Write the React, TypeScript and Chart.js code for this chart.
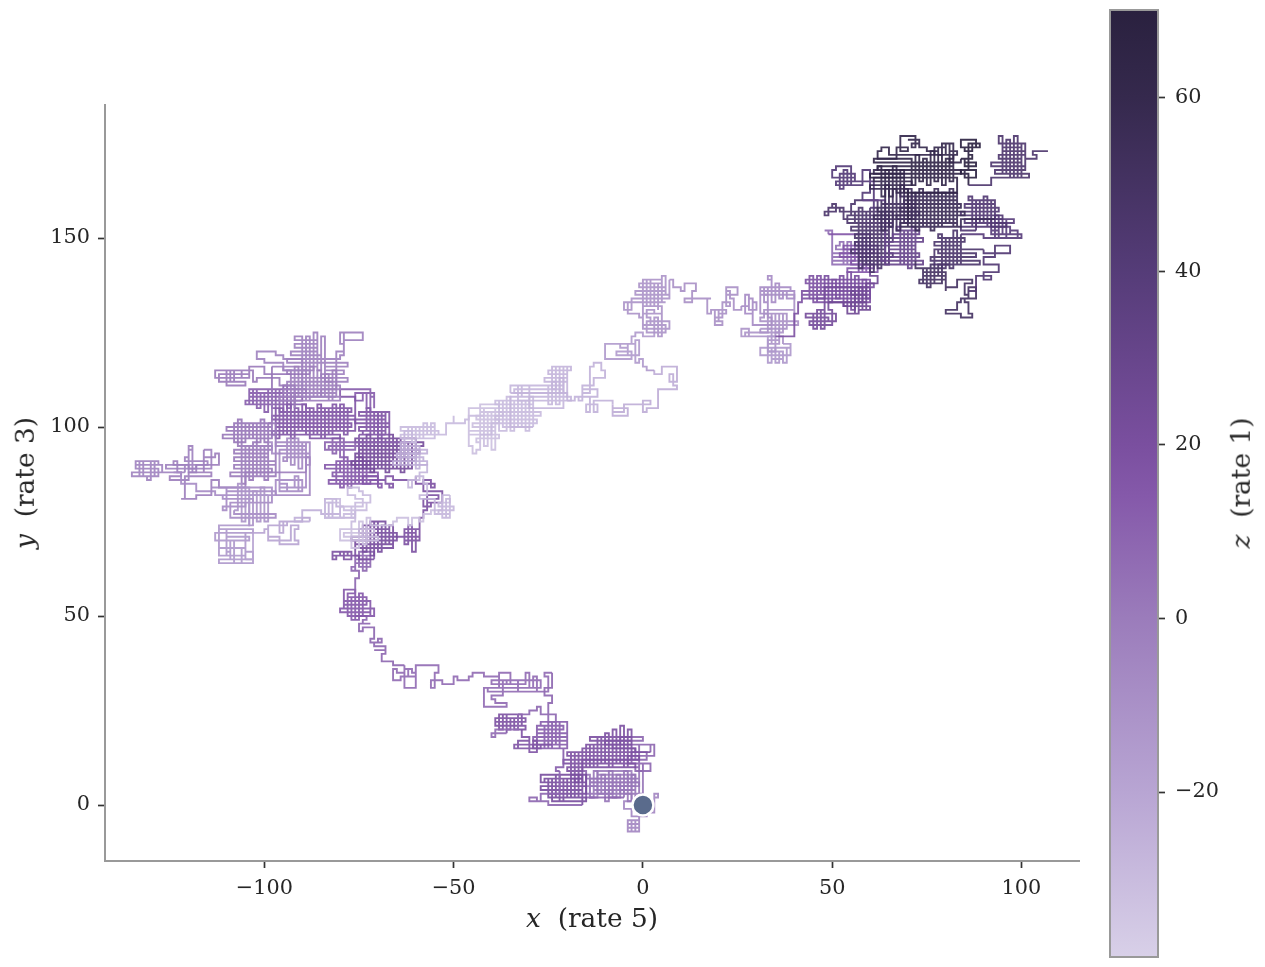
import { useEffect, useRef } from 'react'
import { Chart, registerables } from 'chart.js'

Chart.register(...registerables)

const SERIF = "'DejaVu Serif', serif"

const xTicks = [-100, -50, 0, 50, 100]
const yTicks = [0, 50, 100, 150]
const zTicks = [-20, 0, 20, 40, 60]

// walk, one row per stretch of the path
const legX: number[][] = [
  [0,3,4,3,1,-1,-4,-1,-4,-1,-4,-3,-2,-1,-3,-5,-3,-5,-4],
  [-4,-2,-6,-3,-12,-2,-14,-1,-9,-6,-10,-8,-12,-10,-14,-12,-15],
  [0,-1,-2,-3,-4,-5,-6,-7,-8,-9,-10,-11,-12,-13,-14,-15,-1,-14,-2,-13,-5],
  [-15,-16,-1,2,-3,1,-2,-8,-6,0,-10,3,-4,0,-2,-1,2],
  [-17,-2,-17,-1,-16,-2,-15,-3,-14,-3,-12,-4,-16,-15,-14,-13,-12,-11,-10,-9,-8,-7,-6,-5,-4,-3],
  [-16,-20,-16,-21,-16,-20,-16,-19,-18,-17,-16,-19,-18,-17,-16],
  [-27,-16,-26,-15,-27,-16,-25,-15,-24,-17,-22,-15,-25,-24,-23,-22,-21,-20,-19,-18,-17,-16],
  [-25,-30,-28,-27,-25,-22],
  [-23,-21,-29,-20,-29,-20,-28,-21,-27,-20,-28,-26,-25,-24,-23,-22,-24],
  [-28,-34,-27,-33,-30,-29,-28,-30,-32],
  [-33,-31,-39,-31,-39,-32,-38,-37,-36,-35,-34,-33,-36,-36],
  [-37,-40,-39,-36,-33],
  [-30,-28,-27,-24,-23,-25,-24,-26,-24,-24],
  [-26,-25,-41,-27,-40,-31,-30,-29,-28,-33,-36,-35,-38,-37,-40,-39,-36,-42,-38],
  [-42,-45,-46,-49,-50,-53,-56,-55,-54,-56,-60,-62,-61,-60,-63,-62,-64,-66,-65,-63],
  [-66,-66,-68,-69,-68,-71,-68,-71,-69,-70,-72,-71,-74,-75,-72,-74,-73,-76],
  [-72,-78,-71,-80,-72,-79,-73,-77,-76,-75,-74,-78,-77,-76,-79,-78,-76],
  [-76,-76,-75,-76,-77,-76,-72,-76,-72,-75,-74,-73,-75,-71],
  [-75,-81,-82,-78,-80,-79,-77,-82,-76],
  [-76,-66,-77,-65,-75,-67,-76,-66,-74,-70,-72,-68,-74,-73,-72,-71,-70,-69,-68,-67,-66],
  [-65,-60,-63,-59,-62,-61,-60,-63,-62,-61,-59],
  [-58,-57,-56,-58,-54,-57,-53,-58,-55,-56,-58,-60,-60],
  [-62,-66,-68,-67,-66,-68,-72,-74,-70],
  [-69,-83,-70,-82,-71,-84,-72,-81,-70,-80,-73,-80,-79,-78,-77,-76,-75,-74,-73],
  [-61,-77,-60,-76,-59,-75,-58,-76,-60,-74,-62,-76,-75,-74,-73,-72,-71,-70,-69,-68,-67,-66,-65,-64,-63,-62,-61],
  [-76,-83,-76,-84,-80,-82,-81,-80,-79,-82,-75],
  [-68,-75,-67,-76,-68,-75,-67,-74,-73,-72,-71,-70,-69,-68],
  [-70,-72,-71,-71,-76,-74,-73,-72,-74,-80],
  [-76,-88,-77,-89,-76,-88,-77,-86,-80,-88,-87,-86,-85,-84,-83,-82,-81,-80,-79,-78],
  [-85,-98,-86,-97,-85,-98,-87,-96,-97,-96,-95,-94,-93,-92,-91,-90,-89,-88],
  [-89,-105,-90,-104,-89,-103,-104,-102,-101,-100,-99,-98,-97,-96,-95,-94,-93,-92],
  [-92,-96,-102,-103,-113,-104,-112,-105,-110,-109,-108,-106,-104,-100,-98],
  [-87,-95,-86,-94,-85,-93,-86,-92,-86,-92,-90,-89,-88,-87,-86,-85,-84],
  [-84,-78,-85,-79,-84,-78,-86,-80,-79,-74,-79,-80,-79,-81,-85],
  [-80,-96,-81,-95,-80,-94,-82,-93,-94,-93,-92,-91,-90,-89,-88,-87,-86,-85,-84,-83,-82,-81],
  [-90,-95,-97,-102,-100,-96,-95,-88],
  [-98,-111,-97,-110,-98,-108,-107,-106,-105,-104,-103,-102,-101,-100,-99],
  [-97,-109,-98,-108,-97,-108,-99,-108,-98,-107,-106,-105,-104,-103,-102,-101,-100,-99],
  [-98,-96,-89,-88,-89,-93,-92,-91,-96,-94,-90,-97],
  [-88,-97,-89,-96,-88,-95,-94,-93,-92,-91,-90,-89],
  [-105,-112,-114,-118,-122,-121,-114,-116,-113,-112,-118,-120,-124,-123,-122,-125,-120,-116],
  [-114,-126,-115,-121,-120,-119,-120,-119,-118,-121],
  [-127,-134,-128,-134,-128,-135,-131,-130,-129,-132,-133,-128,-124],
  [-122,-118,-113,-110,-114,-110,-111,-105,-103,-111,-97,-110,-98,-109,-97,-108],
  [-107,-106,-105,-104,-103,-102,-101,-100,-99],
  [-104,-112,-103,-110,-104,-113,-105,-112,-110,-109,-108,-105,-110,-109,-105,-103,-108,-112,-106,-112,-103,-105],
  [-103,-100,-99,-93,-91,-92,-91,-96,-99,-94,-95,-96,-90,-88],
  [-92,-90,-85,-84,-82,-83,-80,-84,-81,-79,-80,-76],
  [-76,-72,-74,-75,-78,-76,-74,-79,-73,-76,-77,-80,-82,-80,-84,-84,-79,-76,-77],
  [-80,-70,-79,-71,-77,-75,-74,-73,-72,-66,-65,-62,-61,-59,-58,-56,-55,-53,-52,-51],
  [-53,-51,-54,-50,-54,-53,-52,-51,-55,-59,-57,-58,-60,-62,-61,-59,-57,-60,-62,-60],
  [-57,-66,-58,-65,-57,-64,-60,-59,-62,-64,-60,-63,-61],
  [-64,-54,-64,-55,-63,-62,-61,-60,-59,-58,-57,-56,-55,-52,-50,-50,-47,-46,-42],
  [-42,-38,-43,-37,-44,-38,-45,-39,-46,-38,-44,-43,-42,-41,-40,-39,-46,-45,-44,-43],
  [-40,-28,-39,-27,-38,-29,-39,-30,-36,-38,-37,-36,-35,-34,-33,-32,-31,-30,-29],
  [-35,-20,-34,-21,-33,-19,-32,-25,-24,-23,-22,-21,-30,-35],
  [-20,-26,-20,-25,-19,-24,-23,-22,-21,-20],
  [-18,-16,-12,-17,-16,-14,-13,-11,-10,-13,-16,-14,-15,-12,-13,-8],
  [-8,-4,-8,-5,-4,2,0,1,4,9,8,7,9,5,3],
  [1,0,-1,-2,-6,-4,-7,-3,-10,-2,-1,-4,-3,-2,0,3],
  [0,6,1,7,3,4,5,0,2,1,3,5,2,3],
  [-5,-3,-4,-1,0,4,4],
  [6,-3,7,-2,6,-1,5,0,1,2,3,4,5,6,7],
  [8,10,11,13,14,13,11,15],
  [18,17,18,20,19,21,19,21,20,22,21,23,22],
  [24,25,22,23,24,26],
  [28,27,29,28,30,29,34,33,33,31,31,33],
  [31,39,32,33,34,35,36,37,38,40,34,33,34,32],
  [40,32,33,41,31,32,40,33,34,35,36,37,38,33,31],
  [37,27,28,26,35,36,34,33,35,36,33,36,37],
  [39,31,34,37,33,34,35,36,37,38,39,33,35],
  [40,41,42,44,42,60,44,61,43,60,46,60,47,46,45,44],
  [48,49,50,51,52,53,54,55,56,57,58,59,60],
  [48,43,49,44,50,45,46,47,48,47,51,50,49],
  [55,54,57,60,53,59,55,56,57,58,59,62,60],
  [58,50,57,50,56,51,52,53,54,55,50,48,49],
  [60,52,61,53,62,54,61,55,56,57,58,59,60],
  [66,55,65,54,66,55,65,56,66,56,64,55,66,57,64,58,57,58,59,60,61,62,63,64,65],
  [62,56,55,52,50,51,48,49,53,54,57,56,60],
  [61,56,55,51,50,56,51,55,52,53,54,58,60,58],
  [64,74,63,73,65,72,64,74,66,73,67,68,69,70,71,72],
  [72,79,74,80,73,77,76,75,74,79,81,78,79,80],
  [80,83,87,85,86,88,84,83,81,80,83,84,87,86,85,86],
  [88,90,92,90,94,90,93,97,90],
  [77,89,76,88,78,84,77,85,78,79,80,81,82,83,84],
  [85,90,94,92,97,92,98,93,100,97,99,96,95,94,93,92,88],
  [84,96,85,95,84,94,85,93,86,87,88,89,90,91,92,93],
  [84,68,83,67,85,68,84,69,83,68,69,70,71,72,73,74,75,76,77,78,79,80,81,82,83],
  [72,61,73,62,72,63,63,64,65,66,67,68,69,70,71],
  [70,60,71,61,69,61,62,63,64,65,66,67,68,69],
  [83,60,84,62,82,61,71,72,73,74,75,76,77,78,79,80,81,82],
  [81,66,65,63,62,67,70,68,72,73,71,72,70,73],
  [75,78,77,80,79,82,81,80,78,83,81,84],
  [85,88,85,87,86,89,84,88,85,87,86,85,88,84,86],
  [92,102,93,101,92,100,94,101,95,100,94,95,96,97,98,99,100,101,101,104,103,107],
]
const legY: number[][] = [
  [0,3,2,-2,-3,-4,-5,-6,-7,-4,-7,-4,-7,-3,-1,1,3,5,6],
  [8,6,4,9,8,7,6,5,2,6,3,8,3,7,2,5,3],
  [9,2,8,1,9,3,8,2,9,1,8,3,9,2,8,7,6,5,4,3,2],
  [9,12,9,11,14,12,15,16,18,17,16,13,11,9,10,16,14],
  [10,11,12,13,14,15,16,17,18,16,12,10,15,10,16,10,18,11,19,10,20,11,21,10,20,12],
  [14,13,12,11,10,9,8,13,7,13,7,14,6,12,6],
  [8,7,6,5,4,3,2,1,4,6,8,3,7,2,8,1,7,2,7,2,8,0],
  [1,2,1,3,3,9],
  [10,15,16,17,18,19,20,21,22,15,21,15,22,16,22,15,16],
  [15,16,15,17,15,17,14,18,20],
  [20,21,22,23,21,24,20,24,20,23,20,24,19,19],
  [19,18,20,20,24],
  [25,26,24,24,22,27,29,31,33,35],
  [34,30,31,33,32,35,31,34,30,33,32,35,33,29,28,27,26,31,34],
  [35,34,33,34,32,33,31,35,37,37,34,36,35,31,36,34,33,36,35,37],
  [37,38,38,40,41,41,42,43,44,43,44,47,46,48,48,49,50,50],
  [51,50,52,51,54,53,55,54,49,56,50,55,49,57,52,56,56],
  [58,60,62,63,62,65,64,66,63,67,62,66,67,65],
  [66,65,67,66,67,65,67,66,68],
  [69,70,71,72,73,70,68,71,74,72,75,69,67,74,66,75,67,74,69,74,70],
  [71,72,70,73,71,67,73,69,74,71,76],
  [78,80,79,81,82,80,83,85,84,86,85,87,86],
  [86,87,85,84,85,86,85,87,84],
  [85,86,87,88,89,90,91,85,88,91,86,84,92,84,91,85,92,85,91],
  [90,91,92,93,94,95,96,97,91,93,89,92,97,89,98,88,97,89,97,88,98,89,97,88,96,89,96],
  [94,95,96,94,97,93,96,92,97,95,98],
  [99,100,101,102,103,104,98,99,105,98,104,97,104,98],
  [104,108,105,109,107,109,105,110,110,108],
  [99,100,101,102,103,104,105,98,97,105,98,106,97,105,98,106,99,106,98,105],
  [98,99,100,101,102,103,104,105,97,105,98,106,97,105,99,106,98,105],
  [106,107,108,109,110,106,110,105,109,104,110,105,110,104,111,105,109,105],
  [111,113,112,115,113,114,112,111,115,112,115,113,116,114,116],
  [115,116,117,118,119,120,121,122,123,124,115,124,116,125,115,124,116],
  [112,113,114,115,116,117,118,119,125,123,125,122,120,110,108],
  [107,108,109,110,111,112,113,114,115,107,116,108,115,107,116,108,115,108,114,107,115,108],
  [118,119,120,118,117,117,115,114],
  [97,98,99,100,101,96,102,96,101,97,101,96,102,96,101],
  [87,88,89,90,91,92,93,94,95,96,85,95,86,96,87,95,86,96],
  [93,84,92,90,84,84,87,83,85,83,86,82],
  [96,95,94,93,92,91,97,90,97,89,96,88],
  [84,86,82,81,81,87,88,92,93,90,89,90,91,88,87,86,88,94],
  [89,90,91,92,95,88,94,88,90,88],
  [90,91,90,89,88,87,86,91,87,91,87,88,88],
  [85,83,82,84,84,78,79,80,81,82,83,84,80,76,77,78],
  [85,75,84,74,83,75,84,75,82],
  [74,73,72,71,70,72,68,73,66,70,66,70,67,65,65,64,66,68,64,65,67,65],
  [72,73,70,74,73,70,69,71,74,75,72,75,76,75],
  [76,78,77,76,80,76,77,81,79,79,76,78],
  [80,82,83,84,82,81,79,78,80,76,79,80,81,80,77,76,77,75,73],
  [70,71,72,73,68,75,69,76,74,75,76,74,76,75,77,78,78,80,80,82],
  [76,77,78,79,80,76,81,77,81,82,85,87,86,84,86,88,90,92,93,91],
  [90,91,92,93,94,95,89,95,90,96,92,99,97],
  [98,99,100,97,97,100,96,100,97,101,98,101,98,101,103,101,102,103,103],
  [105,106,104,103,102,101,100,99,98,97,96,105,95,104,94,105,95,93,94,98],
  [101,102,103,104,105,106,107,100,99,107,100,108,99,107,100,107,99,108,100],
  [108,109,110,111,107,108,111,106,112,106,113,105,111,109],
  [112,113,114,115,116,110,116,109,116,107],
  [108,110,108,107,109,116,117,115,113,111,108,104,106,104,107,106],
  [103,105,104,106,106,107,104,105,110,111,114,112,116,114,115],
  [116,118,117,122,121,119,120,118,122,123,119,122,124,125,124,126],
  [127,125,128,126,129,124,130,127,129,131,130,132,133,133],
  [131,133,130,129,132,131,133],
  [133,134,135,136,137,138,139,132,139,132,138,133,140,135,139],
  [137,136,138,138,136,133,134,134],
  [134,130,131,128,129,131,127,128,130,131,133,132,137],
  [137,135,136,134,131,132],
  [135,130,134,131,133,127,129,133,130,131,137,135],
  [136,137,133,137,133,138,134,136,134,136,139,140,137,135],
  [131,130,127,128,129,131,127,126,130,125,130,126,130,125,126],
  [125,124,126,124,123,126,122,120,125,122,123,124,122],
  [121,119,118,120,117,121,117,120,117,121,119,124,124],
  [130,133,136,134,135,136,137,138,139,134,133,135,140,133,140,134],
  [140,133,139,134,140,132,141,131,140,133,139,134,137],
  [130,129,128,127,130,126,131,126,131,128,130,131,133],
  [132,130,131,132,133,135,136,130,137,131,138,140,142],
  [143,144,145,146,147,148,149,143,149,143,152,152,151],
  [145,146,147,148,141,142,143,144,149,141,150,141,150],
  [157,156,155,154,153,152,151,150,149,148,147,146,145,144,143,142,158,143,157,141,158,142,157,143,156],
  [160,159,157,158,159,157,156,158,155,156,154,157,158],
  [165,167,169,168,166,165,164,167,163,168,164,168,162,160],
  [143,144,145,146,147,148,149,150,151,152,153,143,152,142,153,144],
  [142,141,140,139,138,143,137,142,138,143,143,140,141,136],
  [137,139,138,135,137,134,133,131,131,130,130,129,130,133,134,136],
  [140,139,140,141,143,145,148,146,147],
  [143,144,145,146,147,148,149,150,151,142,150,142,152,143,151],
  [151,150,152,153,151,155,154,150,151,152,150,155,151,156,152,155,152],
  [153,154,155,156,157,158,159,160,161,153,160,154,161,153,160,155],
  [153,154,155,156,157,158,159,160,161,162,163,153,162,152,163,153,162,152,163,153,162,154,163,153,162],
  [155,156,157,158,159,160,152,164,153,163,152,164,154,163,155],
  [163,164,165,166,167,168,169,161,168,161,169,162,168,162],
  [166,167,168,169,170,171,164,172,165,171,164,173,165,172,164,171,165,172],
  [172,172,174,173,171,174,173,177,176,175,174,176,176,174],
  [173,172,174,172,175,171,175,174,172,173,170,171],
  [169,170,171,172,175,174,176,174,173,175,168,166,168,167,164],
  [166,167,168,169,170,171,172,173,174,175,177,167,176,166,177,166,175,169,171,172,173,173],
]
const legZ = [
  -6,-2,2,8,18,18,20,8,12,16,18,6,8,6,6,8,14,8,18,20,18,18,16,14,22,10,16,12,16,16,12,
  0,-3,-3,-2,-4,2,0,-8,-6,-2,-3,-4,-8,-12,-14,-20,-25,-30,-32,-28,-25,-30,-32,-30,-28,-27,-26,-24,-15,-12,-12,-12,
  -10,-10,-10,-8,-8,-10,-12,-14,18,20,22,25,5,15,45,45,40,30,50,50,42,45,38,42,55,52,58,62,60,60,68,44,
]

const startPoint = [{ x: 0, y: 0 }]

const zStops = [-39, -20, 0, 14, 20, 40, 60, 70]
const zColors = [
  [216, 208, 232],
  [184, 165, 211],
  [155, 124, 187],
  [133, 89, 170],
  [122, 79, 159],
  [85, 60, 120],
  [53, 41, 77],
  [42, 33, 63],
]

const zMin = -39
const zMax = 70.1

function zColor(z: number, alpha = 0.92) {
  let i = 0
  while (i < zStops.length - 2 && z > zStops[i + 1]) i++
  const t = Math.min(1, Math.max(0, (z - zStops[i]) / (zStops[i + 1] - zStops[i])))
  const c = zColors[i].map((v, k) => Math.round(v + (zColors[i + 1][k] - v) * t))
  return `rgba(${c[0]},${c[1]},${c[2]},${alpha})`
}

const pathPoints = legX.flatMap((xs, i) => xs.map((x, j) => ({ x, y: legY[i][j] })))
const pathZ = legX.flatMap((xs, i) => xs.map(() => legZ[i]))

const fmt = (v: number | string) => String(v).replace('-', '\u2212')
const fixedTicks = (values: number[]) => (s: any) => {
  s.ticks = values.map((value) => ({ value }))
}

const tickGrid = { drawOnChartArea: false, drawTicks: true, tickLength: 7, tickColor: '#333333', tickWidth: 1.7 }
const tickFont = { family: SERIF, size: 20.8 }

const titleStyle: React.CSSProperties = {
  position: 'absolute',
  fontFamily: SERIF,
  fontSize: 26.4,
  color: '#262626',
  whiteSpace: 'pre',
  lineHeight: 1,
}

export default function App() {
  const mainRef = useRef<HTMLCanvasElement | null>(null)
  const barRef = useRef<HTMLCanvasElement | null>(null)

  useEffect(() => {
    if (!mainRef.current || !barRef.current) return

    const main = new Chart(mainRef.current, {
      type: 'line',
      data: {
        datasets: [
          {
            data: startPoint,
            pointRadius: 10.5,
            pointBackgroundColor: '#5a6b8c',
            pointBorderColor: '#ffffff',
            pointBorderWidth: 2.5,
            showLine: false,
            order: 0,
          },
          {
            data: pathPoints,
            pointRadius: 0,
            borderWidth: 1.9,
            stepped: true,
            borderColor: zColor(0),
            segment: { borderColor: (ctx: any) => zColor(pathZ[ctx.p1DataIndex]) },
            order: 1,
          },
        ],
      },
      options: {
        responsive: false,
        animation: false,
        layout: { padding: { top: 105, right: 186, bottom: 0, left: 0 } },
        plugins: { legend: { display: false }, tooltip: { enabled: false } },
        scales: {
          x: {
            type: 'linear',
            min: -142.1,
            max: 115.2,
            afterFit: (s: any) => { s.height = 106 },
            afterBuildTicks: fixedTicks(xTicks),
            border: { color: '#999999', width: 2 },
            grid: tickGrid,
            ticks: { maxRotation: 0, autoSkip: false, padding: 8, color: '#262626', font: tickFont, callback: fmt },
          },
          y: {
            type: 'linear',
            min: -14.8,
            max: 185.2,
            afterFit: (s: any) => { s.width = 105 },
            afterBuildTicks: fixedTicks(yTicks),
            border: { color: '#999999', width: 2 },
            grid: tickGrid,
            ticks: { padding: 8, color: '#262626', font: tickFont, callback: fmt },
          },
        },
      },
    })

    const bar = new Chart(barRef.current, {
      type: 'bar',
      data: {
        labels: ['z'],
        datasets: [
          {
            data: [[zMin, zMax]] as any,
            barPercentage: 1,
            categoryPercentage: 1,
            backgroundColor: (ctx: any) => {
              const area = ctx.chart.chartArea
              if (!area) return zColor(0, 1)
              const g = ctx.chart.ctx.createLinearGradient(0, area.bottom, 0, area.top)
              zStops.forEach((z) => g.addColorStop((z - zMin) / (zMax - zMin), zColor(z, 1)))
              g.addColorStop(1, zColor(zMax, 1))
              return g
            },
          },
        ],
      },
      options: {
        responsive: false,
        animation: false,
        layout: { autoPadding: false, padding: { top: 10, right: 0, bottom: 10, left: 10 } },
        plugins: { legend: { display: false }, tooltip: { enabled: false } },
        scales: {
          x: { display: false },
          y: {
            position: 'right',
            min: zMin,
            max: zMax,
            afterFit: (s: any) => {
              s.width = 107
              s.paddingTop = 0
              s.paddingBottom = 0
            },
            afterBuildTicks: fixedTicks(zTicks),
            border: { display: false },
            grid: tickGrid,
            ticks: { padding: 10, color: '#262626', font: tickFont, callback: fmt },
          },
        },
      },
      plugins: [
        {
          id: 'barFrame',
          afterDraw(chart: any) {
            const { ctx, chartArea: a } = chart
            ctx.save()
            ctx.strokeStyle = '#999999'
            ctx.lineWidth = 2
            ctx.strokeRect(a.left, a.top, a.right - a.left, a.bottom - a.top)
            ctx.restore()
          },
        },
      ],
    })

    return () => {
      main.destroy()
      bar.destroy()
    }
  }, [])

  return (
    <div style={{ position: 'absolute', left: 0, top: 0, width: 1265, height: 967, overflow: 'hidden', background: '#fff' }}>
      <canvas ref={mainRef} width={1265} height={967} style={{ position: 'absolute', left: 0, top: 0 }} />
      <canvas ref={barRef} width={165} height={967} style={{ position: 'absolute', left: 1100, top: 0 }} />
      <div style={{ ...titleStyle, left: 592, top: 918, transform: 'translate(-50%,-50%)' }}>
        <i>x</i>{'  (rate 5)'}
      </div>
      <div style={{ ...titleStyle, left: 25, top: 483, transform: 'translate(-50%,-50%) rotate(-90deg)' }}>
        <i>y</i>{'  (rate 3)'}
      </div>
      <div style={{ ...titleStyle, left: 1241, top: 483, transform: 'translate(-50%,-50%) rotate(-90deg)' }}>
        <i>z</i>{'  (rate 1)'}
      </div>
    </div>
  )
}
